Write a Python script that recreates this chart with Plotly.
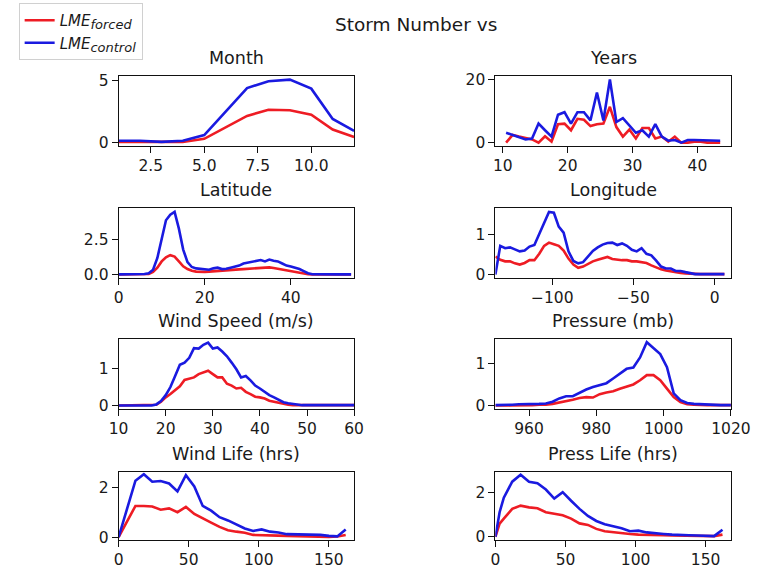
import plotly.graph_objects as go

W, H = 773, 575
RED = "#ee1c24"
BLUE = "#1a1ae0"
FONT = "DejaVu Sans"
TXT = "#1a1a1a"

# ---- data ----
month_x = [1, 2, 3, 4, 5, 6, 7, 8, 9, 10, 11, 12]
month_forced = [0.05, 0.05, 0.0, 0.05, 0.3, 1.2, 2.15, 2.65, 2.6, 2.25, 1.05, 0.45]
month_control = [0.15, 0.15, 0.05, 0.15, 0.6, 2.5, 4.4, 4.95, 5.08, 4.35, 1.9, 0.95]

years_x = [10.5, 11.5, 12.5, 13.5, 14.5, 15.5, 16.5, 17.5, 18.5, 19.5, 20.5, 21.5,
           22.5, 23.5, 24.5, 25.5, 26.5, 27.5, 28.5, 29.5, 30.5, 31.5, 32.5, 33.5,
           34.5, 35.5, 36.5, 37.5, 38.5, 39.5, 40.5, 41.5, 42.5, 43.5]
years_forced = [0, 2.4, 1.9, 1.4, 1.0, 0, 2, 0.3, 5.8, 6, 3.9, 7.5,
                7.2, 5.2, 5.8, 6, 11.3, 4.9, 1.9, 4.1, 1.3, 4.6, 4.6, 1.3,
                1.9, 0.3, 1.9, 0, 0, 0.3, 0.3, 0, 0, 0]
years_control = [3.1, 2.4, 1.6, 1.0, 1.3, 6.0, 3.9, 1.9, 8.8, 9.6, 6, 9.6,
                 9.6, 7, 15.8, 7, 19.9, 6.5, 7.7, 5.5, 3.1, 3.9, 1.9, 5.8,
                 1.9, 0.6, 0.8, 0, 0.8, 0.8, 0.8, 0.8, 0.6, 0.6]

lat_x = list(range(0, 55))
lat_forced = [0.01, 0.01, 0.01, 0.01, 0.01, 0.01, 0.02, 0.05, 0.2, 0.5,
              0.95, 1.25, 1.4, 1.3, 0.95, 0.6, 0.4, 0.28, 0.22, 0.2,
              0.2, 0.22, 0.25, 0.25, 0.28, 0.3, 0.32, 0.35, 0.38, 0.4,
              0.42, 0.43, 0.45, 0.47, 0.5, 0.52, 0.48, 0.42, 0.35, 0.3,
              0.25, 0.2, 0.12, 0.06, 0.03, 0.01, 0.01, 0.01, 0.01, 0.01,
              0.01, 0.01, 0.01, 0.01, 0.01]
lat_control = [0.02, 0.02, 0.02, 0.02, 0.02, 0.03, 0.05, 0.1, 0.35, 1.2,
               2.6, 3.9, 4.3, 4.5, 3.3, 1.8, 0.9, 0.55, 0.45, 0.4,
               0.38, 0.35, 0.45, 0.5, 0.4, 0.42, 0.5, 0.58, 0.65, 0.8,
               0.86, 0.92, 1.0, 1.05, 0.95, 1.08, 1.0, 0.95, 0.8, 0.65,
               0.58, 0.5, 0.4, 0.25, 0.1, 0.03, 0.02, 0.02, 0.02, 0.02,
               0.02, 0.02, 0.02, 0.02, 0.02]

lon_x = [-135, -132, -129, -126, -123, -120, -117, -114, -111, -108, -105, -102,
         -99, -96, -93, -90, -87, -84, -81, -78, -75, -72, -69, -66,
         -63, -60, -57, -54, -51, -48, -45, -42, -39, -36, -33, -30,
         -27, -24, -21, -18, -15, -12, -9, -6, -3, 0, 3, 6]
lon_forced = [0.45, 0.37, 0.33, 0.33, 0.28, 0.25, 0.29, 0.36, 0.36, 0.52, 0.72, 0.8,
              0.76, 0.72, 0.6, 0.4, 0.25, 0.17, 0.2, 0.27, 0.33, 0.37, 0.41, 0.44,
              0.39, 0.37, 0.36, 0.36, 0.33, 0.33, 0.31, 0.29, 0.23, 0.18, 0.13, 0.1,
              0.08, 0.05, 0.04, 0.03, 0.02, 0.02, 0.01, 0.01, 0.01, 0.01, 0.01, 0.01]
lon_control = [0.0, 0.72, 0.66, 0.68, 0.63, 0.58, 0.6, 0.7, 0.74, 1.02, 1.32, 1.57,
               1.55, 1.2, 1.05, 0.58, 0.34, 0.28, 0.31, 0.46, 0.59, 0.68, 0.75, 0.79,
               0.8, 0.74, 0.78, 0.72, 0.62, 0.58, 0.66, 0.52, 0.48, 0.35, 0.2, 0.15,
               0.15, 0.09, 0.09, 0.06, 0.03, 0.01, 0.01, 0.01, 0.01, 0.01, 0.01, 0.01]

wind_x = list(range(10, 61))
wind_forced = [0, 0, 0, 0, 0, 0, 0, 0, 0.02, 0.1,
               0.22, 0.31, 0.41, 0.52, 0.69, 0.72, 0.76, 0.85, 0.89, 0.94,
               0.85, 0.76, 0.76, 0.59, 0.54, 0.46, 0.48, 0.37, 0.31, 0.24,
               0.22, 0.19, 0.13, 0.1, 0.08, 0.04, 0.02, 0.01, 0.01, 0.01,
               0.01, 0.01, 0.01, 0.01, 0.01, 0.01, 0.01, 0.01, 0.01, 0.01, 0.01]
wind_control = [0, 0, 0, 0, 0, 0, 0, 0, 0.03, 0.12,
                0.28, 0.5, 0.8, 1.1, 1.16, 1.29, 1.55, 1.54, 1.64, 1.7,
                1.54, 1.57, 1.46, 1.33, 1.16, 0.98, 0.76, 0.8, 0.68, 0.54,
                0.46, 0.37, 0.28, 0.22, 0.15, 0.09, 0.06, 0.04, 0.02, 0.01,
                0.01, 0.01, 0.01, 0.01, 0.01, 0.01, 0.01, 0.01, 0.01, 0.01, 0.01]

pres_x = [950, 951, 953, 955, 957, 959, 961, 963, 965, 967, 969, 971, 973, 975,
          977, 979, 981, 983, 985, 987, 989, 991, 993, 995, 997, 999, 1001, 1003,
          1005, 1007, 1009, 1011, 1013, 1015, 1017, 1019, 1020]
pres_forced = [0.0, 0.0, 0.01, 0.01, 0.01, 0.01, 0.01, 0.02, 0.02, 0.04, 0.07, 0.11, 0.14, 0.18,
               0.2, 0.19, 0.27, 0.31, 0.34, 0.4, 0.45, 0.5, 0.6, 0.72, 0.72, 0.6, 0.4, 0.2,
               0.08, 0.03, 0.02, 0.01, 0.01, 0.01, 0.01, 0.01, 0.01]
pres_control = [0.01, 0.01, 0.02, 0.02, 0.03, 0.03, 0.04, 0.04, 0.05, 0.09, 0.17, 0.22, 0.22, 0.3,
                0.38, 0.44, 0.48, 0.53, 0.64, 0.75, 0.87, 0.9, 1.14, 1.5, 1.37, 1.22, 0.91, 0.29,
                0.13, 0.06, 0.04, 0.03, 0.02, 0.01, 0.01, 0.01, 0.01]

wlife_x = [0, 6, 12, 18, 24, 30, 36, 42, 48, 54, 60, 66, 72, 78, 84, 90, 96, 102,
           108, 114, 120, 126, 132, 138, 144, 150, 156, 162]
wlife_forced = [0, 0.6, 1.25, 1.25, 1.23, 1.1, 1.15, 1.0, 1.21, 0.93, 0.74, 0.58, 0.41, 0.28,
                0.22, 0.18, 0.09, 0.09, 0.09, 0.06, 0.05, 0.04, 0.03, 0.03, 0.01, 0.01, 0.03, 0.09]
wlife_control = [0, 1.12, 2.26, 2.52, 2.22, 2.25, 2.15, 1.83, 2.48, 2.03, 1.25, 1.06, 0.8, 0.67,
                 0.5, 0.35, 0.25, 0.31, 0.22, 0.19, 0.12, 0.12, 0.09, 0.09, 0.09, 0.05, 0.03, 0.31]

plife_x = [0, 3, 6, 12, 18, 24, 30, 36, 42, 48, 54, 60, 66, 72, 78, 84, 90, 96, 102,
           108, 114, 120, 126, 132, 138, 144, 150, 156, 162]
plife_forced = [0, 0.6, 0.83, 1.27, 1.42, 1.34, 1.3, 1.12, 1.05, 0.98, 0.83, 0.61, 0.54, 0.36,
                0.25, 0.2, 0.18, 0.13, 0.1, 0.1, 0.07, 0.07, 0.06, 0.05, 0.05, 0.03, 0.03, 0.03, 0.1]
plife_control = [0, 1.12, 1.78, 2.51, 2.83, 2.51, 2.44, 2.15, 1.74, 2.03, 1.64, 1.27, 0.95, 0.72,
                 0.57, 0.47, 0.39, 0.25, 0.28, 0.2, 0.18, 0.13, 0.1, 0.07, 0.07, 0.06, 0.04, 0.03, 0.32]

titles = ["Month", "Years", "Latitude", "Longitude",
          "Wind Speed (m/s)", "Pressure (mb)", "Wind Life (hrs)", "Press Life (hrs)"]
series = [
    (month_x, month_forced, month_control),
    (years_x, years_forced, years_control),
    (lat_x, lat_forced, lat_control),
    (lon_x, lon_forced, lon_control),
    (wind_x, wind_forced, wind_control),
    (pres_x, pres_forced, pres_control),
    (wlife_x, wlife_forced, wlife_control),
    (plife_x, plife_forced, plife_control),
]
x_ranges = [[1, 12], [8.85, 45.15], [0, 54.7], [-135, 10], [10, 60], [950, 1020], [0, 168], [0, 168]]
y_ranges = [[-0.26, 5.34], [-1.0, 20.9], [-0.22, 4.76], [-0.08, 1.66],
            [-0.085, 1.79], [-0.074, 1.57], [-0.1, 2.6], [-0.13, 2.94]]
x_ticks = [
    ([2.5, 5.0, 7.5, 10.0], ["2.5", "5.0", "7.5", "10.0"]),
    ([10, 20, 30, 40], ["10", "20", "30", "40"]),
    ([0, 20, 40], ["0", "20", "40"]),
    ([-100, -50, 0], ["\u2212100", "\u221250", "0"]),
    ([10, 20, 30, 40, 50, 60], ["10", "20", "30", "40", "50", "60"]),
    ([960, 980, 1000, 1020], ["960", "980", "1000", "1020"]),
    ([0, 50, 100, 150], ["0", "50", "100", "150"]),
    ([0, 50, 100, 150], ["0", "50", "100", "150"]),
]
y_ticks = [
    ([0, 5], ["0", "5"]),
    ([0, 20], ["0", "20"]),
    ([0, 2.5], ["0.0", "2.5"]),
    ([0, 1], ["0", "1"]),
    ([0, 1], ["0", "1"]),
    ([0, 1], ["0", "1"]),
    ([0, 2], ["0", "2"]),
    ([0, 2], ["0", "2"]),
]
legend_names = ["<i>LME<sub><span style='font-size:13px'>forced</span></sub></i>",
                "<i>LME<sub><span style='font-size:13px'>control</span></sub></i>"]

# ---- layout geometry (pixels) ----
col_px = [(113, 358), (505, 750)]
row_px = [(72, 143), (207, 278), (341, 412), (477, 546)]
TICK_SIZE = 15.5
TITLE_SIZE = 17.5

fig = go.Figure()
layout = dict(
    width=W, height=H, margin=dict(l=0, r=0, t=0, b=0),
    paper_bgcolor="white", plot_bgcolor="white",
    font=dict(family=FONT, size=TICK_SIZE, color=TXT),
    showlegend=True,
    legend=dict(x=9 / W, y=1 + 3 / H, xanchor="left", yanchor="top",
                bordercolor="#d0d0d0", borderwidth=1, bgcolor="white",
                font=dict(family=FONT, size=15, color=TXT),
                tracegroupgap=0, itemwidth=30),
)
annotations = []
for i in range(8):
    r, c = divmod(i, 2)
    n = i + 1
    xa = "x" if n == 1 else f"x{n}"
    ya = "y" if n == 1 else f"y{n}"
    xs, f, ctl = series[i]
    fig.add_trace(go.Scatter(x=xs, y=f, mode="lines", line=dict(color=RED, width=2.6),
                             name=legend_names[0], showlegend=(i == 0),
                             legendgroup="f", xaxis=xa, yaxis=ya))
    fig.add_trace(go.Scatter(x=xs, y=ctl, mode="lines", line=dict(color=BLUE, width=2.6),
                             name=legend_names[1], showlegend=(i == 0),
                             legendgroup="c", xaxis=xa, yaxis=ya))
    x0, x1 = col_px[c]
    y0, y1 = row_px[r]
    common = dict(showline=True, mirror=True, linecolor="#111111", linewidth=1,
                  ticks="outside", ticklen=6, tickcolor="#111111", showgrid=False,
                  zeroline=False, tickfont=dict(family=FONT, size=TICK_SIZE, color=TXT))
    layout["xaxis" if n == 1 else f"xaxis{n}"] = dict(
        domain=[x0 / W, x1 / W], range=x_ranges[i], anchor=ya,
        tickmode="array", tickvals=x_ticks[i][0], ticktext=x_ticks[i][1], **common)
    layout["yaxis" if n == 1 else f"yaxis{n}"] = dict(
        domain=[1 - y1 / H, 1 - y0 / H], range=y_ranges[i], anchor=xa,
        tickmode="array", tickvals=y_ticks[i][0], ticktext=y_ticks[i][1], **common)
    annotations.append(dict(text=titles[i], xref="paper", yref="paper",
                            x=(x0 + x1) / 2 / W, y=1 - (y0 - 19) / H,
                            xanchor="center", yanchor="middle", showarrow=False,
                            font=dict(family=FONT, size=TITLE_SIZE, color=TXT)))

annotations.append(dict(text="Storm Number vs", xref="paper", yref="paper",
                        x=422 / W, y=1 - 19 / H, xanchor="center", yanchor="middle",
                        showarrow=False, font=dict(family=FONT, size=18.5, color=TXT)))
layout["annotations"] = annotations
fig.update_layout(**layout)
fig.write_html("out.html")
